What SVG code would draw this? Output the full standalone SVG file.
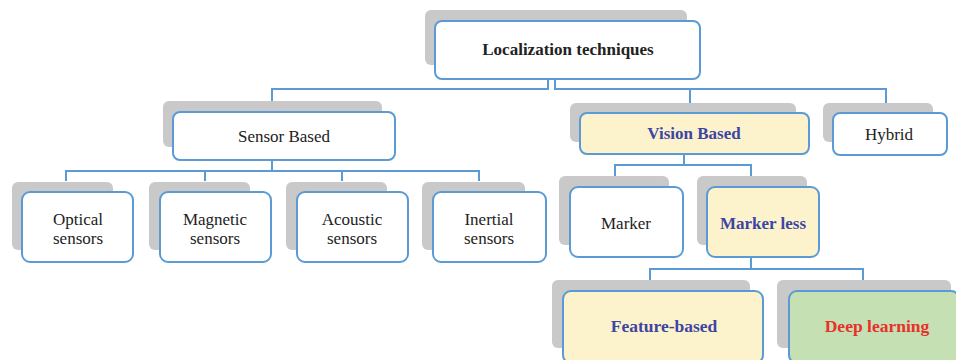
<svg xmlns="http://www.w3.org/2000/svg" width="956" height="360" viewBox="0 0 956 360">
<style>
.sh{fill:#c9c9c9}
.bx{fill:#ffffff;stroke:#5b9bd5;stroke-width:2}
.y{fill:#fcf2cc}
.g{fill:#c5e0b3}
.c{fill:none;stroke:#5b9bd5;stroke-width:2}
text{font-family:"Liberation Serif","Times New Roman",serif;font-size:17px;text-anchor:middle;fill:#222}
.b{font-weight:bold}
.bl{fill:#3d45a3;font-weight:bold}
.rd{fill:#e8312b;font-weight:bold}
</style>
<rect width="956" height="360" fill="#ffffff"/>
<g id="connectors">
<path class="c" d="M548,79 V89 H272 V112"/>
<path class="c" d="M555,79 V89 H886 V113 M690,89 V113"/>
<path class="c" d="M272,160 V171 M66,181 V171 H479 V181 M205,171 V181 M342,171 V181"/>
<path class="c" d="M684,154 V165 H615 V176 M684,165 H751 V176"/>
<path class="c" d="M751,257 V269 H650 V280 M751,269 H863 V280"/>
</g>
<g id="root">
<rect class="sh" x="425" y="10" width="262" height="55" rx="6"/>
<rect class="bx" x="435" y="21" width="265" height="58" rx="7"/>
<text class="b" x="568" y="55">Localization techniques</text>
</g>
<g id="sensor">
<rect class="sh" x="163" y="101" width="219" height="46" rx="6"/>
<rect class="bx" x="173" y="112" width="222" height="48" rx="7"/>
<text x="284" y="142">Sensor Based</text>
</g>
<g id="vision">
<rect class="sh" x="570" y="103" width="226" height="39" rx="6"/>
<rect class="bx y" x="580" y="113" width="229" height="41" rx="7"/>
<text class="bl" x="694" y="139">Vision Based</text>
</g>
<g id="hybrid">
<rect class="sh" x="823" y="103" width="110" height="39" rx="6"/>
<rect class="bx" x="833" y="113" width="114" height="42" rx="7"/>
<text x="889" y="140">Hybrid</text>
</g>
<g id="optical">
<rect class="sh" x="12" y="182" width="101" height="68" rx="6"/>
<rect class="bx" x="22" y="192" width="111" height="70" rx="8"/>
<text x="78" y="225">Optical</text><text x="78" y="244">sensors</text>
</g>
<g id="magnetic">
<rect class="sh" x="149" y="182" width="101" height="68" rx="6"/>
<rect class="bx" x="160" y="192" width="111" height="70" rx="8"/>
<text x="215" y="225">Magnetic</text><text x="215" y="244">sensors</text>
</g>
<g id="acoustic">
<rect class="sh" x="286" y="182" width="101" height="68" rx="6"/>
<rect class="bx" x="297" y="192" width="111" height="70" rx="8"/>
<text x="352" y="225">Acoustic</text><text x="352" y="244">sensors</text>
</g>
<g id="inertial">
<rect class="sh" x="422" y="182" width="103" height="68" rx="6"/>
<rect class="bx" x="433" y="192" width="113" height="70" rx="8"/>
<text x="489" y="225">Inertial</text><text x="489" y="244">sensors</text>
</g>
<g id="marker">
<rect class="sh" x="559" y="176" width="110" height="69" rx="6"/>
<rect class="bx" x="570" y="187" width="113" height="70" rx="8"/>
<text x="626" y="229">Marker</text>
</g>
<g id="markerless">
<rect class="sh" x="697" y="176" width="110" height="69" rx="6"/>
<rect class="bx y" x="707" y="187" width="112" height="70" rx="8"/>
<text class="bl" x="763" y="229">Marker less</text>
</g>
<g id="feature">
<rect class="sh" x="552" y="280" width="198" height="68" rx="6"/>
<rect class="bx y" x="563" y="291" width="200" height="72" rx="8"/>
<text class="bl" x="664" y="332" style="font-size:17.5px">Feature-based</text>
</g>
<g id="deep">
<rect class="sh" x="777" y="280" width="174" height="68" rx="6"/>
<rect class="bx g" x="789" y="291" width="170" height="72" rx="8"/>
<text class="rd" x="877" y="332" style="font-size:17.5px">Deep learning</text>
</g>
</svg>
